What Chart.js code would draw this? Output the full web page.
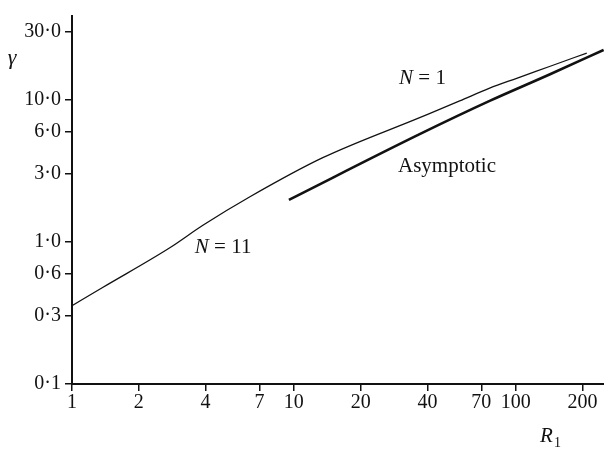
<!DOCTYPE html>
<html lang="en">
<head>
    <meta charset="UTF-8">
    <title>Gamma vs R1</title>
    <script src="https://cdn.jsdelivr.net/npm/chart.js@4.4.1/dist/chart.umd.min.js"></script>
    <style>
        body {
            margin: 0;
            background: #fff;
        }
        #wrap {
            width: 604px;
            height: 450px;
        }
    </style>
</head>
<body>
    <div id="wrap">
        <canvas id="gammaChart" width="604" height="450"></canvas>
    </div>

    <script>
        // Values
        const xTicks = [1, 2, 4, 7, 10, 20, 40, 70, 100, 200];
        const yTicks = [0.1, 0.3, 0.6, 1, 3, 6, 10, 30];

        const exactR = [1, 1.38, 2.76, 3.89, 6.34, 13.5, 36.9, 55.9, 76.3, 101, 142, 209];
        const exactGamma = [0.356, 0.48, 0.91, 1.31, 2.08, 3.92, 7.51, 9.84, 12.1, 14.2, 17.2, 21.4];

        const asymR = [9.5, 36.9, 76.3, 142, 249];
        const asymGamma = [1.98, 5.74, 9.84, 15.1, 22.5];

        // curve labels: [text, R, gamma]
        const curveLabels = [
            ['N = 1', 38, 14.2],
            ['Asymptotic', 49, 3.4],
            ['N = 11', 4.8, 0.91]
        ];

        const ink = '#111';
        const serif = "'Liberation Serif', 'DejaVu Serif', serif";

        function fmt(v) {
            if (v < 1) return String(v).replace('.', '·');
            return v.toFixed(1).replace('.', '·');
        }

        const textPlugin = {
            id: 'textPlugin',
            afterDraw(chart) {
                const ctx = chart.ctx;
                const xs = chart.scales.x;
                const ys = chart.scales.y;
                ctx.save();
                ctx.fillStyle = ink;
                ctx.textAlign = 'center';
                ctx.textBaseline = 'middle';

                curveLabels.forEach(([txt, r, g]) => {
                    const px = xs.getPixelForValue(r);
                    const py = ys.getPixelForValue(g);
                    if (txt.startsWith('N')) {
                        // italic N, roman rest
                        const rest = txt.slice(1);
                        ctx.font = 'italic 21px ' + serif;
                        const wN = ctx.measureText('N').width;
                        ctx.font = '21px ' + serif;
                        const wR = ctx.measureText(rest).width;
                        const x0 = px - (wN + wR) / 2;
                        ctx.textAlign = 'left';
                        ctx.font = 'italic 21px ' + serif;
                        ctx.fillText('N', x0, py);
                        ctx.font = '21px ' + serif;
                        ctx.fillText(rest, x0 + wN, py);
                        ctx.textAlign = 'center';
                    } else {
                        ctx.font = '21px ' + serif;
                        ctx.fillText(txt, px, py);
                    }
                });

                // axis titles
                ctx.font = 'italic 22px ' + serif;
                ctx.fillText('γ', chart.chartArea.left - 60, ys.getPixelForValue(19.6));

                const rx = xs.getPixelForValue(142);
                const ry = chart.chartArea.bottom + 52;
                ctx.font = 'italic 21px ' + serif;
                ctx.fillText('R', rx - 3, ry);
                ctx.font = '14px ' + serif;
                ctx.fillText('1', rx + 8, ry + 7);
                ctx.restore();
            }
        };

        const ctx = document.getElementById('gammaChart').getContext('2d');
        new Chart(ctx, {
            type: 'line',
            data: {
                datasets: [
                    {
                        label: 'Exact',
                        data: exactR.map((r, i) => ({ x: r, y: exactGamma[i] })),
                        borderColor: ink,
                        borderWidth: 1.3,
                        pointRadius: 0,
                        cubicInterpolationMode: 'monotone',
                        fill: false
                    },
                    {
                        label: 'Asymptotic',
                        data: asymR.map((r, i) => ({ x: r, y: asymGamma[i] })),
                        borderColor: ink,
                        borderWidth: 2.6,
                        pointRadius: 0,
                        cubicInterpolationMode: 'monotone',
                        fill: false
                    }
                ]
            },
            options: {
                responsive: false,
                animation: false,
                layout: {
                    padding: { top: 8, right: 0, left: 0, bottom: 0 }
                },
                plugins: {
                    legend: { display: false },
                    tooltip: { enabled: false }
                },
                scales: {
                    x: {
                        type: 'logarithmic',
                        min: 1,
                        max: 250,
                        afterBuildTicks: (scale) => {
                            scale.ticks = xTicks.map(v => ({ value: v }));
                        },
                        afterFit: (scale) => {
                            scale.height = 66;
                        },
                        ticks: {
                            color: ink,
                            padding: 0,
                            maxRotation: 0,
                            autoSkip: false,
                            font: { family: serif, size: 20 },
                            callback: (v) => String(v)
                        },
                        grid: {
                            drawOnChartArea: false,
                            drawTicks: true,
                            tickLength: 7,
                            color: ink,
                            lineWidth: 1.5
                        },
                        border: { display: true, color: ink, width: 2 }
                    },
                    y: {
                        type: 'logarithmic',
                        min: 0.1,
                        max: 39,
                        afterBuildTicks: (scale) => {
                            scale.ticks = yTicks.map(v => ({ value: v }));
                        },
                        afterFit: (scale) => {
                            scale.width = 72;
                        },
                        ticks: {
                            color: ink,
                            padding: 4,
                            autoSkip: false,
                            font: { family: serif, size: 20 },
                            callback: (v) => fmt(v)
                        },
                        grid: {
                            drawOnChartArea: false,
                            drawTicks: true,
                            tickLength: 7,
                            color: ink,
                            lineWidth: 1.5
                        },
                        border: { display: true, color: ink, width: 2 }
                    }
                }
            },
            plugins: [textPlugin]
        });
    </script>
</body>
</html>
